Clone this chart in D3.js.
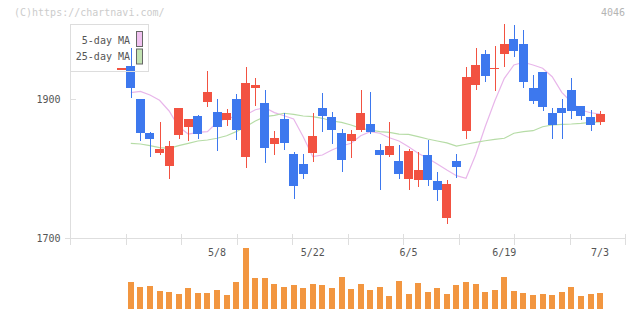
<!DOCTYPE html>
<html>
<head>
<meta charset="utf-8">
<script src="https://cdnjs.cloudflare.com/ajax/libs/d3/7.8.5/d3.min.js"></script>
<style>
  body { margin: 0; background: #fff; }
  svg text { font-family: "DejaVu Sans Mono", monospace; font-size: 10px; }
</style>
</head>
<body>
<div id="chart"></div>
<script>

// daily candles, first one (index -1) is the half-visible doji under the legend
var dayIndex = [-1,0,1,2,3,4,5,6,7,8,9,10,11,12,13,14,15,16,17,18,19,20,21,22,23,24,
    25,26,27,28,29,30,31,32,33,34,35,36,37,38,39,40,41,42,43,44,45,46,47,48,49];
var opens  = [1944.5,1947.4,1900,1851.2,1822.9,1804.2,1848.7,1860.2,1875.6,1896.1,1881.3,1870.3,1900,1817.2,1916.2,1894.3,1835.8,
    1871.3,1821.0,1806.7,1822.9,1887.1,1874.2,1851.2,1840.1,1855.9,1864.1,1826.8,1820.0,1811.0,1785.6,1784.1,1819.6,1782.3,1729.6,
    1811.4,1854.5,1920.5,1964.6,1942.6,1965.0,1986.1,1979.0,1915.8,1938.8,1879.9,1887.1,1912.9,1889.9,1874.2,1867.4];
var highs  = [1944.5,1972.8,1900,1853.1,1867.4,1840.1,1887.1,1871.3,1877.0,1940.2,1900,1885.6,1907.2,1945.9,1930.2,1912.9,1854.1,
    1879.9,1824.3,1821.0,1879.9,1908.6,1881.3,1856.9,1855.5,1912.9,1910.1,1835.4,1867.0,1834.0,1828.2,1824.3,1841.1,1795.2,1784.1,
    1821.0,1945.9,1973.2,1970.4,1976.1,2007.7,2006.2,1999.1,1934.5,1938.8,1887.1,1900,1930.2,1889.9,1884.2,1882.8];
var lows   = [1944.5,1901.9,1839.7,1817.2,1819.6,1785.6,1842.1,1839.7,1843.0,1888.9,1825.8,1861.7,1841.6,1801.4,1890.4,1808.5,1819.6,
    1827.2,1756.9,1785.6,1810.0,1853.1,1835.8,1795.6,1815.7,1853.1,1850.2,1769.8,1817.2,1785.6,1769.8,1774.1,1775.5,1754.0,1720.9,
    1787.0,1843.0,1913.4,1924.8,1911.9,1946.4,1960.7,1916.2,1893.3,1883.2,1843.0,1843.0,1871.7,1870.3,1854.5,1863.1];
var closes = [1944.5,1916.2,1851.6,1843.0,1828.2,1832.5,1887.1,1871.3,1850.2,1909.6,1860.2,1879.9,1855.9,1923,1920.1,1830.1,1844.0,
    1837.3,1775.5,1792.7,1846.9,1876.0,1855.9,1812.9,1849.7,1879.9,1853.1,1820.0,1832.5,1792.7,1825.3,1798.1,1784.1,1769.8,1778.0,
    1802.8,1931.6,1948.8,1933.5,1944.9,1979.0,1969.3,1924.8,1897.6,1888.9,1863.1,1880.3,1883.2,1876.0,1863.1,1878.5];
var volumes = [0,27,22,23,18,17,15,21,16,16,19,14,27,61,31,31,25,22,24,21,25,24,21,32,20,25,19,22,13,28,15,26,17,21,15,
    24,27,25,17,19,32,18,16,14,15,14,17,22,13,15,16];

// moving averages, days 0..49
var ma5  = [1909.1,1911.0,1905.7,1898.1,1882.8,1860.2,1849.7,1852.1,1853.1,1866.5,1872.3,1874.6,1877.0,1884.6,1887.5,1880.5,
    1876.0,1871.3,1845.9,1817.2,1819.6,1826.8,1832.5,1836.4,1847.3,1853.1,1850.8,1844.4,1839.7,1831.5,1822.0,1814.9,1806.7,
    1798.0,1789.9,1786.1,1819.6,1860.2,1897.1,1929.7,1948.8,1952.7,1948.8,1944.1,1932.0,1909.6,1895.3,1884.2,1880.3,1878.5];
var ma25 = [1836.4,1835.4,1833.0,1830.1,1829.2,1833.0,1836.4,1839.7,1841.1,1843.6,1847.3,1853.1,1860.2,1868.4,1874.6,1876.5,
    1879.5,1878.0,1875.6,1874.6,1872.3,1868.4,1866.5,1862.7,1857.9,1855.5,1853.1,1852.1,1849.7,1849.3,1845.9,1842.6,1839.7,
    1837.0,1832.5,1835.0,1837.8,1840.1,1842.1,1843.6,1850.8,1853.1,1854.5,1860.2,1862.7,1863.7,1864.1,1865.1,1866.5,1867.0];

var dateLabels = ["5/8","5/22","6/5","6/19","7/3"];
var dateLabelDays = [9,19,29,39,49];
var priceTicks = [1700,1900];
var maNames = ["5-day MA","25-day MA"];

/**
 * Constructor for the candle chart
 */
function CandleChart(){
    var self = this;
    self.init();
};

/**
 * Sets up svg, scales and the static bits (axes, watermark)
 */
CandleChart.prototype.init = function(){
    var self = this;
    self.width = 640;
    self.height = 311;

    self.svg = d3.select("#chart").append("svg")
        .attr("width", self.width)
        .attr("height", self.height);

    self.x = d3.scaleLinear().domain([-6.35, 51.6]).range([70, 625]);
    self.y = d3.scaleLinear().domain([1700, 1900]).range([238.3, 99]);
    self.yVol = d3.scaleLinear().domain([0, 61]).range([309, 248]);

    self.up = "#f25241";
    self.down = "#3d78ee";
    self.axisColor = "#dedede";
};

CandleChart.prototype.drawAxes = function(){
    var self = this;
    var dom = self.x.domain();
    // grid ticks split the x axis into ten equal parts
    var gridTicks = d3.range(11).map(function(k){ return dom[0] + k * (dom[1] - dom[0]) / 10; });

    var gx = self.svg.append("g")
        .attr("transform", "translate(0," + 238.5 + ")")
        .call(d3.axisBottom(self.x).tickValues(gridTicks).tickFormat("").tickSizeInner(6).tickSizeOuter(0));
    gx.select(".domain").remove();
    gx.selectAll(".tick line")
        .attr("y1", -5)
        .attr("stroke", self.axisColor)
        .attr("shape-rendering", "crispEdges");

    self.svg.append("line")
        .attr("x1", 65).attr("x2", 625)
        .attr("y1", 238.5).attr("y2", 238.5)
        .attr("stroke", self.axisColor)
        .attr("shape-rendering", "crispEdges");

    var gy = self.svg.append("g")
        .attr("transform", "translate(70.5,0)")
        .call(d3.axisLeft(self.y).tickValues(priceTicks).tickFormat(d3.format("d"))
            .tickSizeInner(5).tickSizeOuter(0).tickPadding(5));
    gy.select(".domain").remove();
    gy.selectAll(".tick line")
        .attr("x2", 5)
        .attr("stroke", self.axisColor)
        .attr("shape-rendering", "crispEdges");
    gy.selectAll(".tick text")
        .attr("fill", "#555")
        .style("font-family", "DejaVu Sans Mono, monospace")
        .style("font-size", "10px");

    self.svg.append("line")
        .attr("x1", 70.5).attr("x2", 70.5)
        .attr("y1", 24).attr("y2", 238)
        .attr("stroke", self.axisColor)
        .attr("shape-rendering", "crispEdges");

    // date labels under the axis
    self.svg.append("g").selectAll("text")
        .data(dateLabels)
        .enter()
        .append("text")
        .attr("x", function(d, i){ return self.x(dateLabelDays[i]); })
        .attr("y", 256)
        .attr("text-anchor", "middle")
        .attr("fill", "#555")
        .text(function(d){ return d; });

    self.svg.append("text")
        .attr("x", 14).attr("y", 16)
        .attr("fill", "#cccccc")
        .text("(C)https://chartnavi.com/");

    self.svg.append("text")
        .attr("x", 625).attr("y", 16)
        .attr("text-anchor", "end")
        .attr("fill", "#b4b4b4")
        .text("4046");
};

CandleChart.prototype.update = function(){
    var self = this;
    self.drawAxes();

    var candles = dayIndex.map(function(d, i){
        return {day: d, o: opens[i], h: highs[i], l: lows[i], c: closes[i], v: volumes[i]};
    });
    var color = function(d){ return d.c >= d.o ? self.up : self.down; };

    // moving average lines
    var ma = [ma5, ma25];
    var maColors = ["#e8b6ea", "#b6dca6"];
    ma.forEach(function(series, k){
        var line = d3.line()
            .x(function(d, i){ return self.x(i); })
            .y(function(d){ return self.y(d); });
        self.svg.append("path")
            .datum(series)
            .attr("d", line)
            .attr("fill", "none")
            .attr("stroke", maColors[k])
            .attr("stroke-width", 1.2);
    });

    var g = self.svg.append("g").attr("shape-rendering", "crispEdges");

    //wicks
    g.selectAll(".wick")
        .data(candles)
        .enter()
        .append("rect")
        .attr("class", "wick")
        .attr("x", function(d){ return Math.round(self.x(d.day)) - 0.5; })
        .attr("y", function(d){ return self.y(d.h); })
        .attr("width", 1.5)
        .attr("height", function(d){ return Math.max(1, self.y(d.l) - self.y(d.h)); })
        .attr("fill", color);

    //bodies
    g.selectAll(".body")
        .data(candles)
        .enter()
        .append("rect")
        .attr("class", "body")
        .attr("x", function(d){ return Math.round(self.x(d.day) - 4.5); })
        .attr("y", function(d){ return self.y(Math.max(d.o, d.c)); })
        .attr("width", 9)
        .attr("height", function(d){ return Math.max(1.5, Math.abs(self.y(d.o) - self.y(d.c))); })
        .attr("fill", color);

    //volume bars
    g.selectAll(".vol")
        .data(candles.filter(function(d){ return d.v > 0; }))
        .enter()
        .append("rect")
        .attr("class", "vol")
        .attr("x", function(d){ return Math.round(self.x(d.day) - 3); })
        .attr("y", function(d){ return self.yVol(d.v); })
        .attr("width", 6)
        .attr("height", function(d){ return self.yVol(0) - self.yVol(d.v); })
        .attr("fill", "#f29640");

    // legend box
    var lg = self.svg.append("g");
    lg.append("rect")
        .attr("x", 70.5).attr("y", 24.5)
        .attr("width", 78).attr("height", 47)
        .attr("fill", "none")
        .attr("stroke", "#dddddd");
    var swatch = ["#f0c2f0", "#c2e2b2"];
    lg.selectAll(".lgtext")
        .data(maNames)
        .enter()
        .append("text")
        .attr("x", 130)
        .attr("y", function(d, i){ return 44 + i * 16; })
        .attr("text-anchor", "end")
        .attr("fill", "#555")
        .text(function(d){ return d; });
    lg.selectAll(".lgbox")
        .data(maNames)
        .enter()
        .append("rect")
        .attr("x", 136.5)
        .attr("y", function(d, i){ return 31.5 + i * 17.5; })
        .attr("width", 6)
        .attr("height", 15)
        .attr("fill", function(d, i){ return swatch[i]; })
        .attr("stroke", "#666");
};

var chart = new CandleChart();
chart.update();
</script>
</body>
</html>
